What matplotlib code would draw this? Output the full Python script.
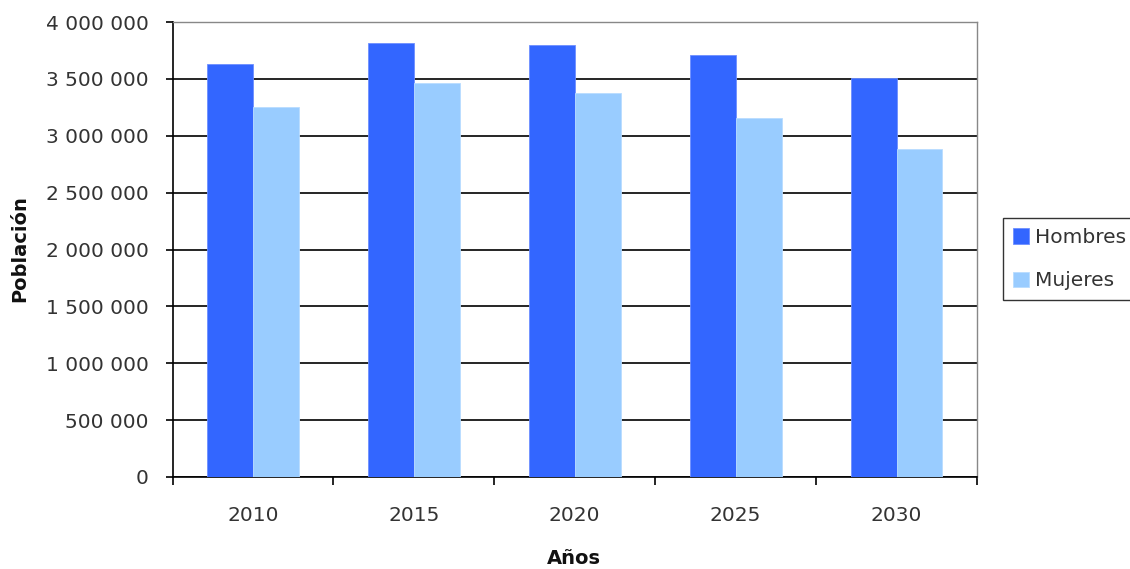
import matplotlib
matplotlib.use("Agg")
import matplotlib.pyplot as plt
import numpy as np
from matplotlib.ticker import FuncFormatter, MultipleLocator, FixedLocator

years = ["2010", "2015", "2020", "2025", "2030"]
hombres = [3630000, 3812000, 3797000, 3713000, 3507000]
mujeres = [3257000, 3463000, 3378000, 3154000, 2887000]

W, H = 1130, 569
plt.rcParams['font.family'] = ['DejaVu Sans']
fig = plt.figure(figsize=(W / 100, H / 100), dpi=100)
ax = fig.add_axes([172.5 / W, 1 - 477 / H, (977 - 172.5) / W, (477 - 22) / H])

x = np.arange(len(years))
w = 0.285
ax.bar(x - w / 2, hombres, w, color="#3366FF", edgecolor="#6d8fff", linewidth=0.6, label="Hombres", zorder=3)
ax.bar(x + w / 2, mujeres, w, color="#99CCFF", edgecolor="#b9dcff", linewidth=0.6, label="Mujeres", zorder=3)

ax.set_xlim(-0.5, len(years) - 0.5)
ax.set_ylim(0, 4000000)
ax.yaxis.set_major_locator(MultipleLocator(500000))
ax.yaxis.set_major_formatter(FuncFormatter(lambda v, p: f"{int(v):,}".replace(",", " ")))
ax.set_xticks(x)
ax.set_xticklabels(years)
ax.xaxis.set_minor_locator(FixedLocator(np.arange(-0.5, len(years), 1.0)))
ax.tick_params(axis='x', which='major', length=0, pad=21, labelsize=14.5, colors='#333333')
ax.tick_params(axis='x', which='minor', length=6, width=1.2, direction='out', color='black')
ax.tick_params(axis='y', length=5, width=1.2, direction='out', labelsize=14.5, labelcolor='#333333',
               color='black', pad=12)

ax.grid(axis='y', color='black', linewidth=1.2, zorder=0)
for s in ['left', 'bottom']:
    ax.spines[s].set_color('black')
    ax.spines[s].set_linewidth(1.2)
for s in ['top', 'right']:
    ax.spines[s].set_color('#888888')
    ax.spines[s].set_linewidth(1.0)

fig.text(20 / W, 1 - 249 / H, "Población", rotation=90, ha='center', va='center',
         fontsize=14, fontweight='bold', color='#111111')
fig.text(574 / W, 1 - 558 / H, "Años", ha='center', va='center',
         fontsize=14, fontweight='bold', color='#111111')

leg = fig.legend(loc='upper left', bbox_to_anchor=(1003 / W, 1 - 218 / H), frameon=True,
                 fancybox=False, edgecolor='black', fontsize=14.5, handlelength=0.8, handleheight=0.8,
                 handletextpad=0.3, borderpad=0.5, labelspacing=1.2, borderaxespad=0)
leg.get_frame().set_linewidth(1.0)
for t in leg.get_texts():
    t.set_color('#333333')

fig.savefig("out.png", dpi=100)
